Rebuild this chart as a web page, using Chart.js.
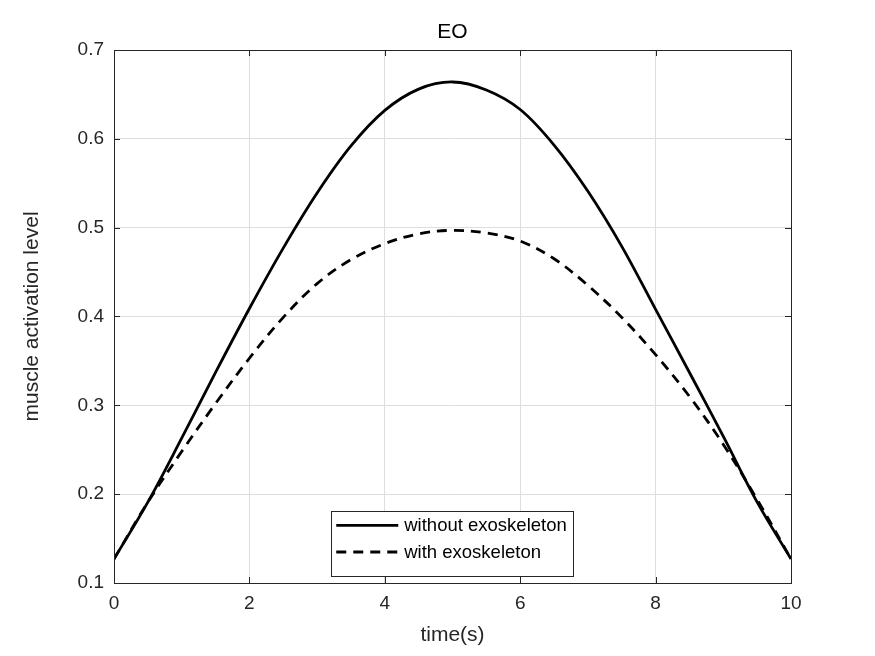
<!DOCTYPE html>
<html>
<head>
<meta charset="utf-8">
<script src="https://cdn.jsdelivr.net/npm/chart.js@4.4.1/dist/chart.umd.min.js"></script>
<style>
  html, body { margin: 0; padding: 0; background: #fff; }
  #wrap { width: 875px; height: 656px; }
</style>
</head>
<body>
<div id="wrap"><canvas id="chart" width="875" height="656"></canvas></div>
<script>
// values
const times       = [0, 0.5, 1, 1.5, 2, 2.5, 3, 3.5, 4, 4.5, 5, 5.5, 6, 6.5, 7, 7.5, 8, 8.5, 9, 9.5, 10];
const withoutExo  = [0.127, 0.191, 0.263, 0.337, 0.409, 0.477, 0.539, 0.592, 0.632, 0.656, 0.664, 0.655, 0.633, 0.593, 0.541, 0.479, 0.408, 0.337, 0.265, 0.191, 0.127];
const withExo     = [0.127, 0.191, 0.248, 0.302, 0.353, 0.399, 0.437, 0.464, 0.482, 0.493, 0.497, 0.494, 0.485, 0.465, 0.435, 0.399, 0.357, 0.310, 0.256, 0.194, 0.127];
const seriesNames = ['without exoskeleton', 'with exoskeleton'];
const chartTitle = 'EO';
const xTicks = [0, 2, 4, 6, 8, 10];
const yTicks = [0.1, 0.2, 0.3, 0.4, 0.5, 0.6, 0.7];

const ink = '#262626';
const FONT = 'Liberation Sans, Arial, sans-serif';

const toPoints = ys => times.map((t, i) => ({x: t, y: ys[i]}));

// title centred over the axes, box round the axes, inward ticks on all sides
const boxPlugin = {
  id: 'box',
  afterDatasetsDraw(chart) {
    const {ctx, chartArea: a, scales: {x, y}} = chart;
    ctx.save();
    ctx.strokeStyle = ink;
    ctx.lineWidth = 1;
    ctx.strokeRect(a.left + 0.5, a.top + 0.5, a.right - a.left, a.bottom - a.top);
    const len = 6;
    ctx.beginPath();
    xTicks.forEach(v => {
      const px = Math.round(x.getPixelForValue(v)) + 0.5;
      ctx.moveTo(px, a.bottom); ctx.lineTo(px, a.bottom - len);
      ctx.moveTo(px, a.top); ctx.lineTo(px, a.top + len);
    });
    yTicks.forEach(v => {
      const py = Math.round(y.getPixelForValue(v)) + 0.5;
      ctx.moveTo(a.left, py); ctx.lineTo(a.left + len, py);
      ctx.moveTo(a.right, py); ctx.lineTo(a.right - len, py);
    });
    ctx.stroke();

    ctx.fillStyle = '#000';
    ctx.font = '21px ' + FONT;
    ctx.textAlign = 'center';
    ctx.textBaseline = 'middle';
    ctx.fillText(chartTitle, (a.left + a.right) / 2, a.top - 18);
    ctx.restore();
  }
};

// legend box inside the axes, bottom centre
const legendPlugin = {
  id: 'insideLegend',
  afterDraw(chart) {
    const {ctx, chartArea: a} = chart;
    ctx.save();
    ctx.font = '18.5px ' + FONT;
    const textW = Math.max(...chart.data.datasets.map(d => ctx.measureText(d.label).width));
    const sample = 62, padL = 5, gap = 6, padR = 7, rowH = 26.7;
    const w = padL + sample + gap + textW + padR;
    const h = 65;
    const left = (a.left + a.right) / 2 - w / 2;
    const top = a.bottom - 7 - h;
    ctx.fillStyle = '#fff';
    ctx.fillRect(left, top, w, h);
    ctx.strokeStyle = ink;
    ctx.lineWidth = 1;
    ctx.strokeRect(Math.round(left) + 0.5, Math.round(top) + 0.5, Math.round(w), Math.round(h));
    chart.data.datasets.forEach((d, i) => {
      const cy = top + 14.3 + i * rowH;
      ctx.beginPath();
      ctx.strokeStyle = d.borderColor;
      ctx.lineWidth = d.borderWidth;
      ctx.setLineDash(d.borderDash || []);
      ctx.moveTo(left + padL, cy);
      ctx.lineTo(left + padL + sample, cy);
      ctx.stroke();
      ctx.setLineDash([]);
      ctx.fillStyle = '#000';
      ctx.textBaseline = 'middle';
      ctx.textAlign = 'left';
      ctx.fillText(d.label, left + padL + sample + gap, cy + 1);
    });
    ctx.restore();
  }
};

new Chart(document.getElementById('chart'), {
  type: 'line',
  data: {
    datasets: [
      {
        label: seriesNames[0],
        data: toPoints(withoutExo),
        borderColor: '#000',
        borderWidth: 2.8,
        pointRadius: 0,
        tension: 0.35,
        fill: false
      },
      {
        label: seriesNames[1],
        data: toPoints(withExo),
        borderColor: '#000',
        borderWidth: 2.8,
        borderDash: [10, 7],
        pointRadius: 0,
        tension: 0.35,
        fill: false
      }
    ]
  },
  options: {
    responsive: false,
    animation: false,
    layout: { padding: { left: 0, right: 84, top: 50, bottom: 0 } },
    plugins: {
      legend: { display: false },
      tooltip: { enabled: false },
      title: { display: false }
    },
    scales: {
      x: {
        type: 'linear',
        min: 0,
        max: 10,
        afterBuildTicks: s => { s.ticks = xTicks.map(v => ({value: v})); },
        afterFit: s => { s.height = 73; },
        grid: { color: '#dedede', lineWidth: 1, drawTicks: false },
        border: { display: false },
        ticks: {
          color: ink,
          padding: 9,
          font: { family: FONT, size: 19 },
          callback: v => String(v)
        },
        title: {
          display: true,
          text: 'time(s)',
          color: ink,
          font: { family: FONT, size: 21 },
          padding: { top: 0, bottom: 8.4 }
        }
      },
      y: {
        type: 'linear',
        min: 0.1,
        max: 0.7,
        afterBuildTicks: s => { s.ticks = yTicks.map(v => ({value: v})); },
        afterFit: s => { s.width = 114; },
        grid: { color: '#dedede', lineWidth: 1, drawTicks: false },
        border: { display: false },
        ticks: {
          color: ink,
          padding: 10,
          font: { family: FONT, size: 19 },
          callback: v => v.toFixed(1)
        },
        title: {
          display: true,
          text: 'muscle activation level',
          color: ink,
          font: { family: FONT, size: 21 },
          padding: { top: 19.4, bottom: 0 }
        }
      }
    }
  },
  plugins: [boxPlugin, legendPlugin]
});
</script>
</body>
</html>
